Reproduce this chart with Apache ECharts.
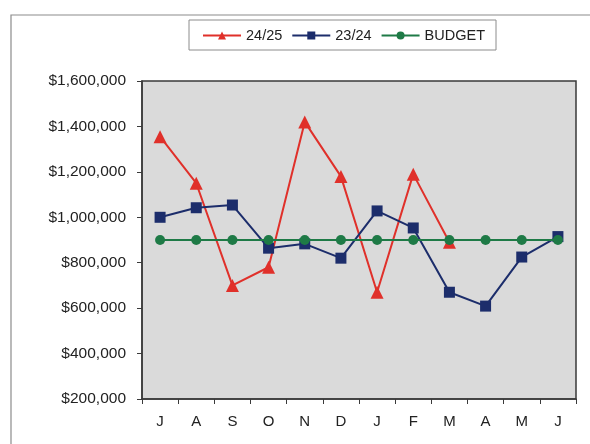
<!DOCTYPE html>
<html>
<head>
<meta charset="utf-8">
<script src="https://cdn.jsdelivr.net/npm/echarts@6/dist/echarts.min.js"></script>
<style>
  html, body { margin: 0; padding: 0; background: #ffffff; }
  #chart { width: 590px; height: 444px; }
</style>
</head>
<body>
<div id="chart"></div>
<script>
// Months of the financial year, July to June
const months = ['J', 'A', 'S', 'O', 'N', 'D', 'J', 'F', 'M', 'A', 'M', 'J'];

// Monthly totals in dollars
const season2425 = [1355000, 1150000, 700000, 780000, 1420000, 1180000, 670000, 1190000, 890000, null, null, null];
const season2324 = [1000000, 1042000, 1054000, 864000, 883000, 820000, 1028000, 953000, 670000, 609000, 825000, 915000];
const budget = [900000, 900000, 900000, 900000, 900000, 900000, 900000, 900000, 900000, 900000, 900000, 900000];

// Y axis range and step
const yMin = 200000;
const yMax = 1600000;
const yStep = 200000;

const fmtMoney = v => '$' + v.toLocaleString('en-US');

const chart = echarts.init(document.getElementById('chart'), null, { renderer: 'canvas' });
const font = 'Liberation Sans, Arial, sans-serif';

chart.setOption({
  animation: false,
  backgroundColor: '#ffffff',
  graphic: [
    {
      type: 'rect',
      shape: { x: 11, y: 15, width: 600, height: 440 },
      style: { fill: 'none', stroke: '#8c8c8c', lineWidth: 1.2 },
      z: -1
    },
    {
      type: 'rect',
      shape: { x: 189, y: 20, width: 307, height: 30 },
      style: { fill: '#ffffff', stroke: '#8c8c8c', lineWidth: 1 },
      z: -1
    }
  ],
  legend: {
    top: 28,
    left: 202,
    padding: 0,
    itemGap: 9,
    itemWidth: 38,
    itemHeight: 10,
    textStyle: { fontFamily: font, fontSize: 14.5, color: '#222' },
    data: ['24/25', '23/24', 'BUDGET']
  },
  grid: {
    left: 142,
    top: 81,
    width: 434,
    height: 318,
    show: true,
    backgroundColor: '#dadada',
    borderColor: '#3a3a3a',
    borderWidth: 1.5
  },
  xAxis: {
    type: 'category',
    data: months,
    boundaryGap: true,
    axisLine: { lineStyle: { color: '#3a3a3a', width: 1.5 } },
    axisTick: { show: true, length: 5, inside: false, lineStyle: { color: '#3a3a3a' } },
    axisLabel: { fontFamily: font, fontSize: 15, color: '#222', margin: 15 },
    splitLine: { show: false }
  },
  yAxis: {
    type: 'value',
    min: yMin,
    max: yMax,
    interval: yStep,
    axisLine: { show: true, lineStyle: { color: '#3a3a3a', width: 1.5 } },
    axisTick: { show: true, length: 5, lineStyle: { color: '#3a3a3a' } },
    axisLabel: { fontFamily: font, fontSize: 15.5, color: '#222', margin: 16, formatter: fmtMoney },
    splitLine: { show: false }
  },
  series: [
    {
      name: '24/25',
      type: 'line',
      data: season2425,
      color: '#e0302a',
      symbol: 'triangle',
      symbolSize: 13,
      lineStyle: { width: 2, color: '#e0302a' },
      itemStyle: { color: '#e0302a' },
      z: 3
    },
    {
      name: '23/24',
      type: 'line',
      data: season2324,
      color: '#1c2d6b',
      symbol: 'rect',
      symbolSize: 11,
      lineStyle: { width: 2, color: '#1c2d6b' },
      itemStyle: { color: '#1c2d6b' },
      z: 4
    },
    {
      name: 'BUDGET',
      type: 'line',
      data: budget,
      color: '#1e7a46',
      symbol: 'circle',
      symbolSize: 10,
      lineStyle: { width: 2, color: '#1e7a46' },
      itemStyle: { color: '#1e7a46' },
      z: 5
    }
  ]
});
</script>
</body>
</html>
